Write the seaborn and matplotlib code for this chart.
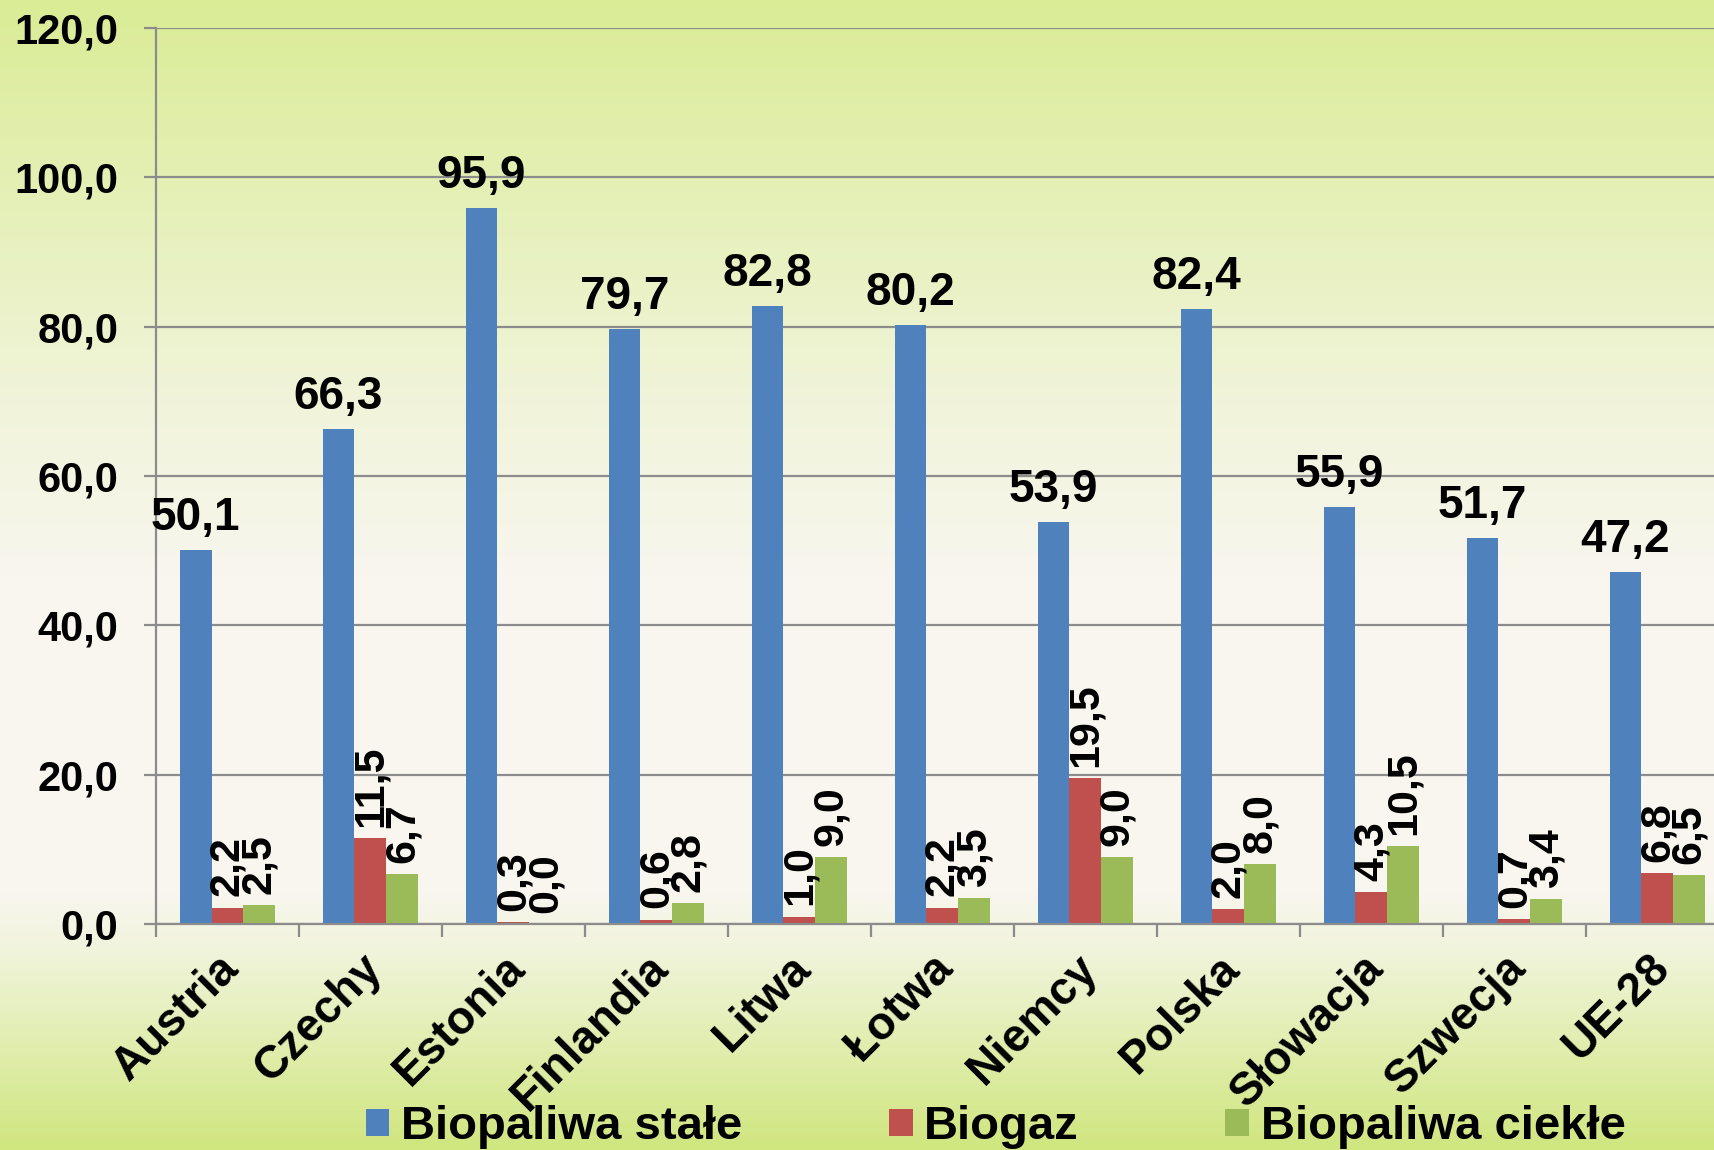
import numpy as np
import pandas as pd
import matplotlib
matplotlib.use('Agg')
import matplotlib.pyplot as plt
import matplotlib.transforms as mtransforms
from matplotlib.colors import LinearSegmentedColormap
from matplotlib.ticker import FuncFormatter, FixedLocator
import seaborn as sns

# Data
kraje = ['Austria', 'Czechy', 'Estonia', 'Finlandia', 'Litwa', 'Łotwa',
         'Niemcy', 'Polska', 'Słowacja', 'Szwecja', 'UE-28']
stale = [50.1, 66.3, 95.9, 79.7, 82.8, 80.2, 53.9, 82.4, 55.9, 51.7, 47.2]
biogaz = [2.2, 11.5, 0.3, 0.6, 1.0, 2.2, 19.5, 2.0, 4.3, 0.7, 6.8]
ciekle = [2.5, 6.7, 0.0, 2.8, 9.0, 3.5, 9.0, 8.0, 10.5, 3.4, 6.5]
serie = ['Biopaliwa stałe', 'Biogaz', 'Biopaliwa ciekłe']
kolory = ['#4F81BD', '#C0504D', '#9BBB59']

df = pd.DataFrame({
    'kraj': kraje * 3,
    'typ': [serie[0]] * 11 + [serie[1]] * 11 + [serie[2]] * 11,
    'wartosc': stale + biogaz + ciekle,
})

sns.set_style('white')
plt.rcParams['font.family'] = ['Liberation Sans', 'DejaVu Sans']
plt.rcParams['font.weight'] = 'bold'
plt.rcParams['text.color'] = 'black'
plt.rcParams['xtick.color'] = 'black'
plt.rcParams['ytick.color'] = 'black'

fig = plt.figure(figsize=(17.14, 11.5), dpi=100)

# gradient background
bg = fig.add_axes([0, 0, 1, 1], zorder=-10)
cmap = LinearSegmentedColormap.from_list('bg', [
    (0.0, '#DAEC96'), (0.12, '#E2EFAD'), (0.35, '#F1F4DA'), (0.5, '#F8F6EE'),
    (0.78, '#F8F6EE'), (0.83, '#F0F4DA'), (1.0, '#D0E67F')])
bg.imshow(np.linspace(0, 1, 256).reshape(-1, 1), aspect='auto', cmap=cmap,
          extent=[0, 1, 1, 0])
bg.set_axis_off()

ax = fig.add_axes([0.0910, 0.1965, 0.9177, 0.7791])
ax.patch.set_alpha(0)

sns.barplot(data=df, x='kraj', y='wartosc', hue='typ', hue_order=serie,
            palette=kolory, width=0.67, saturation=1, errorbar=None,
            linewidth=0, ax=ax)

fmt = lambda v: f'{v:.1f}'.replace('.', ',')
for i, cont in enumerate(ax.containers):
    vals = [stale, biogaz, ciekle][i]
    labs = [fmt(v) for v in vals]
    if i == 0:
        ax.bar_label(cont, labels=labs, padding=7, fontsize=33,
                     fontweight='bold', color='black')
    else:
        ax.bar_label(cont, labels=labs, padding=8, fontsize=31,
                     fontweight='bold', rotation=90, color='black')

ax.set_ylim(0, 120)
ax.set_xlim(-0.5, 10.5)
ax.set_yticks(np.arange(0, 121, 20))
ax.yaxis.set_major_formatter(FuncFormatter(lambda v, p: fmt(v)))
ax.grid(axis='y', color='#8C8C8C', linewidth=1.6)
ax.set_axisbelow(True)
ax.set_xlabel('')
ax.set_ylabel('')

for s in ['top', 'right']:
    ax.spines[s].set_visible(False)
for s in ['left', 'bottom']:
    ax.spines[s].set_color('#8C8C8C')
    ax.spines[s].set_linewidth(1.6)

ax.tick_params(axis='y', length=9, width=1.6, color='#8C8C8C', pad=18,
               labelsize=30, labelcolor='black', direction='out', left=True)
ax.tick_params(axis='x', which='major', length=0, pad=27, labelsize=33,
               labelcolor='black')
ax.xaxis.set_minor_locator(FixedLocator(np.arange(-0.5, 11, 1)))
ax.tick_params(axis='x', which='minor', length=9, width=1.6, color='#8C8C8C',
               direction='out', bottom=True)
for t in ax.get_yticklabels():
    t.set_fontweight('bold')

off = mtransforms.ScaledTranslation(5 / 100, 0, fig.dpi_scale_trans)
for t in ax.get_xticklabels():
    t.set_rotation(45)
    t.set_ha('right')
    t.set_va('center')
    t.set_rotation_mode('anchor')
    t.set_fontweight('bold')
    t.set_transform(t.get_transform() + off)

handles, labels = ax.get_legend_handles_labels()
ax.get_legend().remove()
leg = fig.legend(handles, labels, loc='center', bbox_to_anchor=(0.581, 0.02),
                 ncol=3, frameon=False, handlelength=0.5, handleheight=0.5,
                 handletextpad=0.25, columnspacing=3.1, borderpad=0,
                 prop={'weight': 'bold', 'size': 34})
for t in leg.get_texts():
    t.set_color('black')

fig.savefig('out.png', dpi=100)
